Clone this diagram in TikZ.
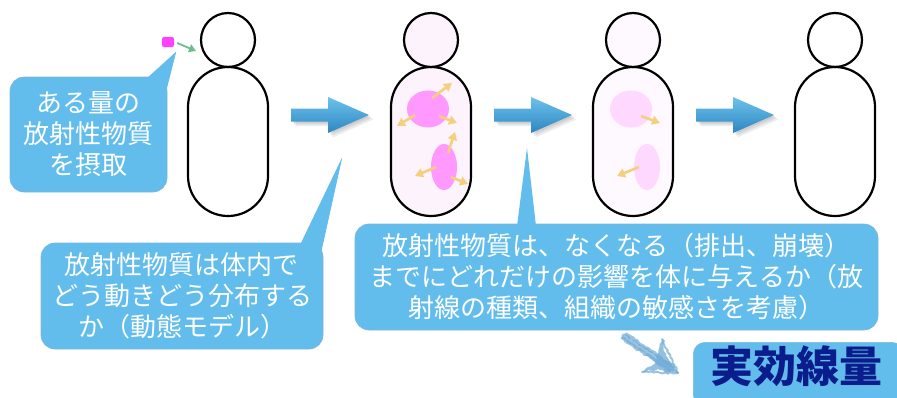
\documentclass[tikz,border=0pt]{standalone}
\usepackage{fontspec}
\newfontfamily\jp{Noto Sans CJK JP}
\usetikzlibrary{arrows.meta,shapes.geometric,decorations.pathmorphing,calc}

\definecolor{bubblefill}{HTML}{62BDEC}
\definecolor{bubbleedge}{HTML}{7DB7DA}
\definecolor{flowtop}{HTML}{6CC2EC}
\definecolor{flowbot}{HTML}{2D86C2}
\definecolor{tissue}{HTML}{FCF3FC}
\definecolor{tissuefaint}{HTML}{FEF9FE}
\definecolor{dose}{HTML}{FF99FF}
\definecolor{dosefaint}{HTML}{FFD8FF}
\definecolor{raycol}{HTML}{F3CF7E}
\definecolor{intake}{HTML}{FF40FF}
\definecolor{inflow}{HTML}{6DBE8F}
\definecolor{navy}{HTML}{0B1D8C}
\definecolor{chalk}{HTML}{6FAAD6}

\tikzset{
  headshape/.style={circle, draw=black, line width=2.2pt, minimum size=54pt, inner sep=0pt},
  bodyshape/.style={rectangle, rounded corners=40pt, draw=black, line width=2.2pt,
                    minimum width=80pt, minimum height=149pt, inner sep=0pt},
  blob/.style={ellipse, inner sep=0pt},
  raydart/.style={draw=raycol, line width=2.6pt, -{Triangle[length=8pt,width=9pt]}},
  bubble/.style={rectangle, rounded corners=14pt, fill=bubblefill, draw=bubbleedge, line width=0.6pt,
                 inner sep=0pt, text=white, align=center,
                 font=\jp\fontsize{26}{31}\selectfont},
  tail/.style={fill=bubblefill},
  flow/.style={top color=flowtop, bottom color=flowbot, draw=none},
  flowshade/.style={fill=black, opacity=0.07, draw=none},
  chalkstroke/.style={chalk, opacity=0.7, line cap=round,
                      decorate, decoration={random steps, segment length=2pt, amplitude=0.9pt}},
}

% a broad stepping arrow, with a soft shadow under it
\newcommand{\flowarrow}[1]{%
  \foreach \s in {1.5,3,4.5}{
    \fill[flowshade, shift={($(#1)+(\s,\s)$)}]
      (0,-6.5) -- (37,-6.5) -- (37,-18) -- (78,0) -- (37,18) -- (37,6.5) -- (0,6.5) -- cycle;
  }
  \shade[flow, shift={(#1)}]
    (0,-6.5) -- (37,-6.5) -- (37,-18) -- (78,0) -- (37,18) -- (37,6.5) -- (0,6.5) -- cycle;
}

\begin{document}
\begin{tikzpicture}[x=1pt,y=-1pt]
\useasboundingbox (0,0) rectangle (897,397);

% ---- four figures ----
\node[bodyshape] (b1) at (228,141.5) {};
\node[headshape] (h1) at (228,40) {};

\node[bodyshape, fill=tissue] (b2) at (431,141.5) {};
\node[headshape, fill=tissue] (h2) at (431,40) {};

\node[bodyshape, fill=tissuefaint] (b3) at (633,141.5) {};
\node[headshape, fill=tissuefaint] (h3) at (633,40) {};

\node[bodyshape] (b4) at (835,141.5) {};
\node[headshape] (h4) at (835,40) {};

% ---- deposits in the second figure ----
\node[blob, fill=dose, minimum width=42pt, minimum height=37pt] (d1) at (428,109) {};
\node[blob, fill=dose, minimum width=26pt, minimum height=46pt] (d2) at (444,167) {};
\draw[raydart] (432,98) -- (452,83);
\draw[raydart] (415,115) -- (397,126);
\draw[raydart] (439,116) -- (457,123);
\draw[raydart] (448,153) -- (455,132);
\draw[raydart] (436,167) -- (415,176);
\draw[raydart] (451,177) -- (468,184);

% ---- fading deposits in the third figure ----
\node[blob, fill=dosefaint, minimum width=42pt, minimum height=37pt] (d3) at (631,109) {};
\node[blob, fill=dosefaint, minimum width=26pt, minimum height=46pt] (d4) at (647,167) {};
\draw[raydart] (641,116) -- (660,123);
\draw[raydart] (639,167) -- (617,176);

% ---- stage arrows ----
\coordinate (s1) at (291,115);
\coordinate (s2) at (494,115);
\coordinate (s3) at (696,115);
\flowarrow{s1}
\flowarrow{s2}
\flowarrow{s3}

% ---- intake ----
\node[rectangle, rounded corners=2pt, fill=intake, minimum width=12pt, minimum height=10pt,
      inner sep=0pt] (src) at (168,42) {};
\coordinate (mouth) at (196,51);
\draw[inflow, line width=1.8pt, -{Triangle[length=7pt,width=8pt]}] (src.east) ++(3,1) -- (mouth);

% ---- callouts ----
\coordinate (t1) at (176,52);
\coordinate (t2) at (342,158);
\coordinate (t3) at (527,148);

\fill[tail] (146,79) -- (t1) -- (166,92) -- cycle;
\node[bubble, minimum width=157pt, minimum height=115pt] (c1) at (88.5,134.5)
  {\fontsize{26}{32.5}\selectfont ある量の\\放射性物質\\を摂取};
\fill[tail] (146,80) -- (t1) -- (165.5,92) -- cycle;

\fill[tail] (300,245) -- (t2) -- (321,252) -- cycle;
\node[bubble, minimum width=282pt, minimum height=106pt] (c2) at (182,296)
  {放射性物質は体内で\\どう動きどう分布する\\か（動態モデル）};
\fill[tail] (300,246) -- (t2) -- (321,253) -- cycle;

\node[bubble, minimum width=523pt, minimum height=106pt] (c3) at (616.5,277)
  {\fontsize{26}{29}\selectfont 放射性物質は、なくなる（排出、崩壊）\\までにどれだけの影響を体に与えるか（放\\射線の種類、組織の敏感さを考慮）};
\fill[tail] (517,226) -- (t3) -- (536,226) -- cycle;

% ---- result ----
\node[rectangle, rounded corners=12pt, fill=bubblefill, draw=bubbleedge, line width=0.6pt,
      minimum width=210pt, minimum height=64pt, anchor=north west, inner sep=0pt] (res) at (693,342) {};
\node[text=navy, font=\jp\bfseries\fontsize{43}{43}\selectfont, inner sep=0pt] (rlab) at (796,366) {実効線量};

% ---- chalk arrow toward the result ----
\coordinate (ch0) at (624,336);
\coordinate (ch1) at (678,373);
\foreach \o/\w in {0/5, 2/3, -2/3}{
  \draw[chalkstroke, line width=\w pt]
    ($(ch0)+(\o,-\o)$) -- ($(ch1)+(-6,-4)+(\o,-\o)$);
}
\fill[chalk, opacity=0.75, decorate, decoration={random steps, segment length=2.5pt, amplitude=1.2pt}]
  (662,339) -- (666,356) -- (ch1) -- (656,370) -- (642,372) -- (655,362) -- cycle;
\draw[chalkstroke, line width=2pt] (662,339) -- (ch1);
\draw[chalkstroke, line width=2pt] (642,372) -- (ch1);
\end{tikzpicture}
\end{document}
